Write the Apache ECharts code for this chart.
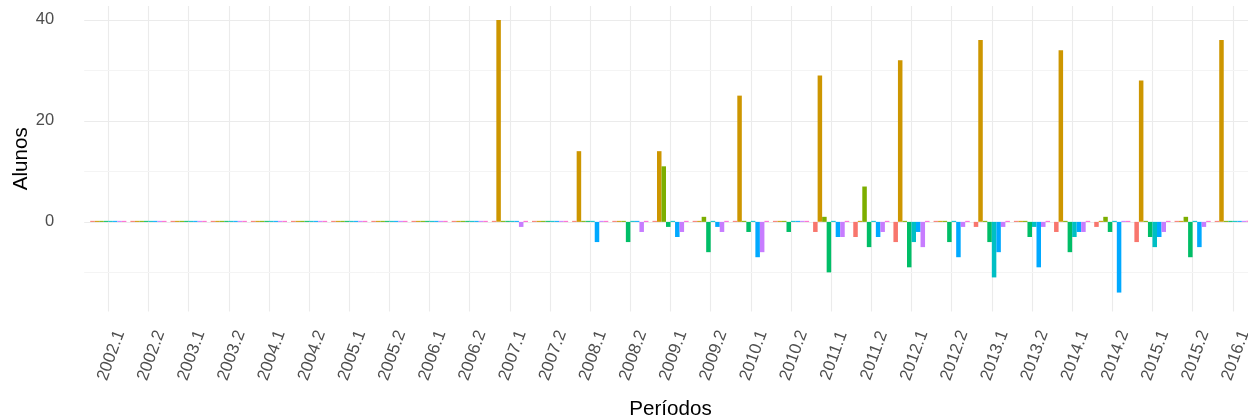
<!DOCTYPE html>
<html>
<head>
<meta charset="utf-8">
<script src="https://cdn.jsdelivr.net/npm/echarts@6/dist/echarts.min.js"></script>
<style>
  html, body { margin: 0; padding: 0; background: #ffffff; }
  #chart { width: 1248px; height: 420px; }
</style>
</head>
<body>
<div id="chart"></div>
<script>
// Períodos letivos (eixo x)
const periodos = [
  '2002.1', '2002.2', '2003.1', '2003.2', '2004.1', '2004.2', '2005.1', '2005.2',
  '2006.1', '2006.2', '2007.1', '2007.2', '2008.1', '2008.2', '2009.1', '2009.2',
  '2010.1', '2010.2', '2011.1', '2011.2', '2012.1', '2012.2', '2013.1', '2013.2',
  '2014.1', '2014.2', '2015.1', '2015.2', '2016.1'
];

// Saldo de alunos por grupo em cada período
const grupoA = [0, 0, 0, 0, 0, 0, 0, 0, 0, 0, 0, 0, 0, 0, 0, 0, 0, 0, -2, -3, -4, 0, -1, 0, -2, -1, -4, 0, 0];
const grupoB = [0, 0, 0, 0, 0, 0, 0, 0, 0, 0, 40, 0, 14, 0, 14, 0, 25, 0, 29, 0, 32, 0, 36, 0, 34, 0, 28, 0, 36];
const grupoC = [0, 0, 0, 0, 0, 0, 0, 0, 0, 0, 0, 0, 0, 0, 11, 1, 0, 0, 1, 7, 0, 0, 0, 0, 0, 1, 0, 1, 0];
const grupoD = [0, 0, 0, 0, 0, 0, 0, 0, 0, 0, 0, 0, 0, -4, -1, -6, -2, -2, -10, -5, -9, -4, -4, -3, -6, -2, -3, -7, 0];
const grupoE = [0, 0, 0, 0, 0, 0, 0, 0, 0, 0, 0, 0, 0, 0, 0, 0, 0, 0, 0, 0, -4, 0, -11, -1, -3, 0, -5, 0, 0];
const grupoF = [0, 0, 0, 0, 0, 0, 0, 0, 0, 0, 0, 0, -4, 0, -3, -1, -7, 0, -3, -3, -2, -7, -6, -9, -2, -14, -3, -5, 0];
const grupoG = [0, 0, 0, 0, 0, 0, 0, 0, 0, 0, -1, 0, 0, -2, -2, -2, -6, 0, -3, -2, -5, -1, -1, -1, -2, 0, -2, -1, 0];
const grupoH = [0, 0, 0, 0, 0, 0, 0, 0, 0, 0, 0, 0, 0, 0, 0, 0, 0, 0, 0, 0, 0, 0, 0, 0, 0, 0, 0, 0, 0];

// Marcas do eixo y
const marcasPrincipais = [0, 20, 40];
const marcasSecundarias = [-10, 10, 30];
const limitesY = [-17.75, 42.75];

const grupos = [grupoA, grupoB, grupoC, grupoD, grupoE, grupoF, grupoG, grupoH];
const nomesGrupos = ['Grupo A', 'Grupo B', 'Grupo C', 'Grupo D', 'Grupo E', 'Grupo F', 'Grupo G', 'Grupo H'];
const cores = ['#F8766D', '#CD9600', '#7CAE00', '#00BE67', '#00BFC4', '#00A9FF', '#C77CFF', '#FF61CC'];

// Geometria do painel: faixa por categoria e expansão de 0.6 faixa nas bordas
const FONTE = '"Liberation Sans", Arial, Helvetica, sans-serif';
const faixa = 40.16;
const topoPainel = 6;
const alturaPainel = 305.5;
const esquerdaPainel = 84.2;
const larguraPainel = (periodos.length - 1 + 1.2) * faixa;
const esquerdaBarras = esquerdaPainel + 0.1 * faixa;
const larguraBarras = periodos.length * faixa;

const chart = echarts.init(document.getElementById('chart'), null, { renderer: 'canvas' });

const seriesBarras = grupos.map((valores, i) => ({
  name: nomesGrupos[i],
  type: 'bar',
  xAxisIndex: 0,
  yAxisIndex: 0,
  data: valores,
  barGap: '0%',
  barCategoryGap: '10%',
  barMinHeight: 1,
  itemStyle: { color: cores[i] },
  z: 3,
  silent: true
}));

const linhasGrade = [
  ...marcasPrincipais.map(v => ({ yAxis: v, lineStyle: { color: '#EBEBEB', width: 1.1, type: 'solid' } })),
  ...marcasSecundarias.map(v => ({ yAxis: v, lineStyle: { color: '#F4F4F4', width: 1, type: 'solid' } }))
];

const option = {
  animation: false,
  backgroundColor: '#ffffff',
  grid: [
    { left: esquerdaBarras, top: topoPainel, width: larguraBarras, height: alturaPainel, outerBoundsMode: 'none', containLabel: false },
    { left: esquerdaPainel, top: topoPainel, width: larguraPainel, height: alturaPainel, outerBoundsMode: 'none', containLabel: false }
  ],
  xAxis: [
    {
      gridIndex: 0,
      type: 'category',
      data: periodos,
      boundaryGap: true,
      axisLine: { show: false },
      axisTick: { show: false },
      axisLabel: {
        interval: 0,
        rotate: 70,
        align: 'center',
        verticalAlign: 'middle',
        margin: 43,
        formatter: v => '{p|' + v + '}',
        rich: {
          p: { padding: [6, 0, 0, 0], fontSize: 17, color: '#4D4D4D', fontFamily: FONTE }
        },
        fontSize: 17,
        color: '#4D4D4D',
        fontFamily: FONTE
      },
      splitLine: { show: true, alignWithLabel: true, lineStyle: { color: '#EBEBEB', width: 1.1 } },
      name: 'Períodos',
      nameLocation: 'middle',
      nameGap: 97.5,
      nameMoveOverlap: false,
      nameTextStyle: { fontSize: 20.6, color: '#000000', fontFamily: FONTE, verticalAlign: 'middle' }
    },
    { gridIndex: 1, type: 'value', min: 0, max: 1, show: false }
  ],
  yAxis: [
    { gridIndex: 0, type: 'value', min: limitesY[0], max: limitesY[1], show: false },
    {
      gridIndex: 1,
      type: 'value',
      min: limitesY[0],
      max: limitesY[1],
      axisLine: { show: false },
      axisTick: { show: false },
      splitLine: { show: false },
      axisLabel: {
        customValues: marcasPrincipais,
        margin: 30,
        fontSize: 16.5,
        color: '#4D4D4D',
        fontFamily: FONTE
      },
      name: 'Alunos',
      nameLocation: 'middle',
      nameGap: 63,
      nameMoveOverlap: false,
      nameTextStyle: { fontSize: 20.6, color: '#000000', fontFamily: FONTE, verticalAlign: 'middle' }
    }
  ],
  series: [
    {
      type: 'line',
      xAxisIndex: 1,
      yAxisIndex: 1,
      data: [],
      silent: true,
      z: 0,
      markLine: {
        silent: true,
        z: 0,
        symbol: ['none', 'none'],
        label: { show: false },
        emphasis: { disabled: true },
        data: linhasGrade
      }
    },
    ...seriesBarras
  ]
};

chart.setOption(option);
</script>
</body>
</html>
